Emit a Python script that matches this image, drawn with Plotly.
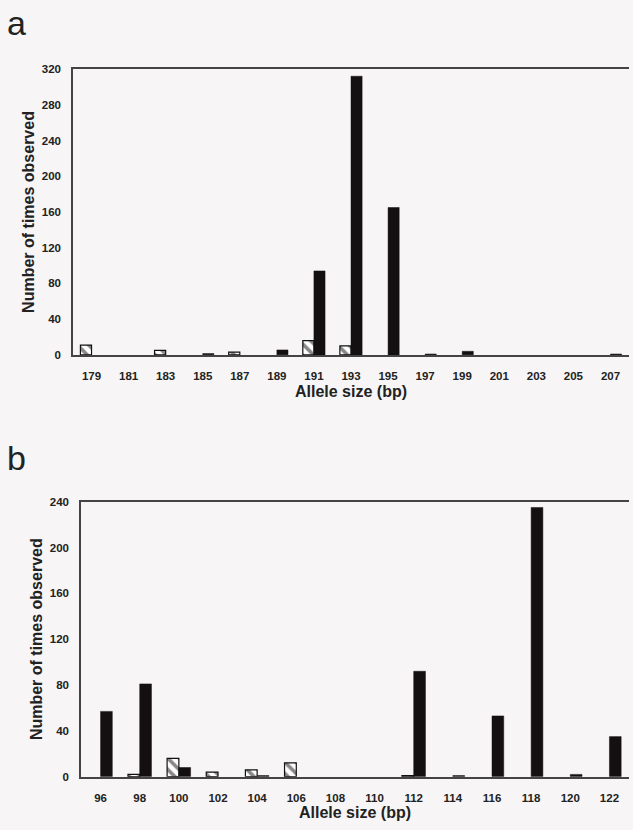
import plotly.graph_objects as go
from plotly.subplots import make_subplots

# Panel a data
alleles_a = ["179", "181", "183", "185", "187", "189", "191", "193", "195", "197", "199", "201", "203", "205", "207"]
hatched_a = [11, 0, 5, 0, 3, 0, 16, 10, 0, 0, 0, 0, 0, 0, 0]
black_a = [0, 0, 0, 1.5, 0, 5.5, 94, 312, 165, 1, 4, 0, 0, 0, 1]
yticks_a = [0, 40, 80, 120, 160, 200, 240, 280, 320]

# Panel b data
alleles_b = ["96", "98", "100", "102", "104", "106", "108", "110", "112", "114", "116", "118", "120", "122"]
hatched_b = [0, 2, 16, 4, 6, 12, 0, 0, 1, 0, 0, 0, 0, 0]
black_b = [57, 81, 8, 0, 1, 0, 0, 0, 92, 1, 53, 235, 2, 35]
yticks_b = [0, 40, 80, 120, 160, 200, 240]

W, H = 633, 830
BG = "#f7f5f5"
FONT = "Liberation Sans, Arial, sans-serif"

fig = make_subplots(rows=2, cols=1)

def add_panel(row, cats, hat, blk):
    fig.add_trace(go.Bar(x=cats, y=hat, marker=dict(color="white",
                         pattern=dict(shape="\\", fgcolor="#111", bgcolor="white", size=8, solidity=0.45),
                         line=dict(color="#111", width=[1.2 if v > 0 else 0 for v in hat])),
                         showlegend=False), row=row, col=1)
    fig.add_trace(go.Bar(x=cats, y=blk, marker=dict(color="#141012",
                         line=dict(color="#141012", width=[0.5 if v > 0 else 0 for v in blk])),
                         showlegend=False), row=row, col=1)

add_panel(1, alleles_a, hatched_a, black_a)
add_panel(2, alleles_b, hatched_b, black_b)

def px_x(a, b):
    return [a / W, b / W]

def px_y(top, bottom):
    return [1 - bottom / H, 1 - top / H]

axis_font = dict(family=FONT, size=11.5, color="#222", weight="bold")
title_font = dict(family=FONT, size=16, color="#222")

common_x = dict(type="category", showline=True, mirror=True, linecolor="#444", linewidth=1.5,
                ticks="", tickfont=axis_font, ticklabelstandoff=10, showgrid=False)
common_y = dict(showline=True, linecolor="#444", linewidth=1.5, showgrid=False, zeroline=False,
                ticks="", tickfont=axis_font, ticklabelstandoff=8)

fig.update_layout(
    width=W, height=H, margin=dict(l=0, r=0, t=0, b=0),
    paper_bgcolor=BG, plot_bgcolor=BG,
    barmode="group", bargap=0.4, bargroupgap=0.0,
    font=dict(family=FONT, color="#222"),
    xaxis=dict(domain=px_x(73, 629), anchor="y", **common_x,
               title=dict(text="<b>Allele size (bp)</b>", font=title_font, standoff=4)),
    yaxis=dict(domain=px_y(64, 354), anchor="x", range=[0, 320], tickvals=yticks_a, **common_y,
               title=dict(text="<b>Number of times observed</b>", font=title_font, standoff=3)),
    xaxis2=dict(domain=px_x(81, 629), anchor="y2", **common_x,
                title=dict(text="<b>Allele size (bp)</b>", font=title_font, standoff=4)),
    yaxis2=dict(domain=px_y(503, 782), anchor="x2", range=[0, 240], tickvals=yticks_b, **common_y,
                title=dict(text="<b>Number of times observed</b>", font=title_font, standoff=3)),
)

for label, y in [("a", 17), ("b", 459)]:
    fig.add_annotation(text=label, x=16 / W, y=1 - y / H, xref="paper", yref="paper",
                       showarrow=False, font=dict(family=FONT, size=34, color="#222"),
                       xanchor="center", yanchor="middle")

fig.write_html("out.html", config={"displayModeBar": False},
               post_script="document.body.style.margin='0';document.body.style.background='#f7f5f5';"
                           "document.body.style.overflow='hidden';")
